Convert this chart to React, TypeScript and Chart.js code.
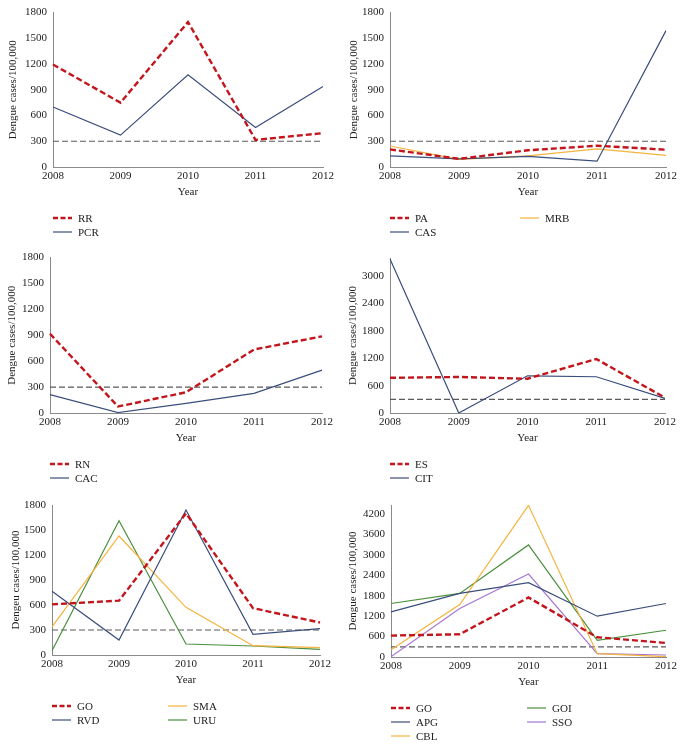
import React, { useEffect, useRef } from "react";
import { Chart, registerables } from "chart.js";

Chart.register(...registerables);

// ---------- data ----------
const years = ["2008", "2009", "2010", "2011", "2012"];
const threshold = [300, 300, 300, 300, 300];

// panel A
const RR = [1195, 750, 1690, 316, 395];
const PCR = [700, 372, 1075, 460, 938];
// panel B
const PA = [205, 95, 195, 248, 202];
const MRB = [245, 88, 130, 212, 135];
const CAS = [130, 95, 125, 68, 1590];
// panel C
const RN = [918, 75, 240, 735, 888];
const CAC = [212, 5, 112, 228, 497];
// panel D
const ES = [772, 790, 752, 1185, 335];
const CIT = [3380, 0, 815, 795, 322];
// panel E
const GO_E = [608, 652, 1700, 562, 390];
const RVD = [765, 180, 1740, 248, 316];
const SMA = [338, 1428, 572, 112, 88];
const URU = [52, 1612, 132, 108, 68];
// panel F
const GO_F = [630, 668, 1750, 580, 413];
const APG = [1328, 1869, 2184, 1200, 1574];
const CBL = [216, 1544, 4460, 98, 10];
const GOI = [1574, 1869, 3295, 492, 787];
const SSO = [10, 1426, 2439, 98, 59];

// tick values
const ticks1800 = [0, 300, 600, 900, 1200, 1500, 1800];
const ticks3000 = [0, 600, 1200, 1800, 2400, 3000];
const ticks4200 = [0, 600, 1200, 1800, 2400, 3000, 3600, 4200];

const yTitleMain = "Dengue cases/100,000";
const yTitleTypo = "Dengeu cases/100,000";

// ---------- styles ----------
const RED = "#C3161C";
const NAVY = "#3A4E7C";
const ORANGE = "#F5B33F";
const GREEN = "#4A8F3C";
const PURPLE = "#A478CC";
const FONT = "'Liberation Serif', 'Times New Roman', serif";
const FS = 11;

type Series = { label: string; data: number[]; color: string; dashed?: boolean; col: number; row: number };

type PanelCfg = {
  cx: number; cy: number; cw: number; ch: number;
  l: number; r: number; t: number; b: number;
  yMax: number; yTicks: number[]; yTitle: string; titleX: number;
  col1: number;
  series: Series[];
};

const panels: PanelCfg[] = [
  {
    cx: 0, cy: 0, cw: 341, ch: 245, l: 53, r: 323, t: 11, b: 167,
    yMax: 1800, yTicks: ticks1800, yTitle: yTitleMain, titleX: 13, col1: 130,
    series: [
      { label: "RR", data: RR, color: RED, dashed: true, col: 0, row: 0 },
      { label: "PCR", data: PCR, color: NAVY, col: 0, row: 1 },
    ],
  },
  {
    cx: 341, cy: 0, cw: 341, ch: 245, l: 390, r: 666, t: 12, b: 167,
    yMax: 1800, yTicks: ticks1800, yTitle: yTitleMain, titleX: 13, col1: 130,
    series: [
      { label: "PA", data: PA, color: RED, dashed: true, col: 0, row: 0 },
      { label: "CAS", data: CAS, color: NAVY, col: 0, row: 1 },
      { label: "MRB", data: MRB, color: ORANGE, col: 1, row: 0 },
    ],
  },
  {
    cx: 0, cy: 245, cw: 341, ch: 245, l: 50, r: 322, t: 257, b: 413,
    yMax: 1800, yTicks: ticks1800, yTitle: yTitleMain, titleX: 12, col1: 130,
    series: [
      { label: "RN", data: RN, color: RED, dashed: true, col: 0, row: 0 },
      { label: "CAC", data: CAC, color: NAVY, col: 0, row: 1 },
    ],
  },
  {
    cx: 341, cy: 245, cw: 341, ch: 245, l: 390, r: 665, t: 258, b: 413,
    yMax: 3400, yTicks: ticks3000, yTitle: yTitleMain, titleX: 12, col1: 130,
    series: [
      { label: "ES", data: ES, color: RED, dashed: true, col: 0, row: 0 },
      { label: "CIT", data: CIT, color: NAVY, col: 0, row: 1 },
    ],
  },
  {
    cx: 0, cy: 490, cw: 341, ch: 256, l: 52, r: 320, t: 505, b: 655,
    yMax: 1800, yTicks: ticks1800, yTitle: yTitleTypo, titleX: 16, col1: 116,
    series: [
      { label: "GO", data: GO_E, color: RED, dashed: true, col: 0, row: 0 },
      { label: "RVD", data: RVD, color: NAVY, col: 0, row: 1 },
      { label: "SMA", data: SMA, color: ORANGE, col: 1, row: 0 },
      { label: "URU", data: URU, color: GREEN, col: 1, row: 1 },
    ],
  },
  {
    cx: 341, cy: 490, cw: 341, ch: 256, l: 391, r: 666, t: 505, b: 657,
    yMax: 4470, yTicks: ticks4200, yTitle: yTitleMain, titleX: 12, col1: 136,
    series: [
      { label: "GO", data: GO_F, color: RED, dashed: true, col: 0, row: 0 },
      { label: "APG", data: APG, color: NAVY, col: 0, row: 1 },
      { label: "CBL", data: CBL, color: ORANGE, col: 0, row: 2 },
      { label: "GOI", data: GOI, color: GREEN, col: 1, row: 0 },
      { label: "SSO", data: SSO, color: PURPLE, col: 1, row: 1 },
    ],
  },
];

const X_AXIS_H = 36;

function Panel({ cfg }: { cfg: PanelCfg }) {
  const ref = useRef<HTMLCanvasElement | null>(null);
  useEffect(() => {
    if (!ref.current) return;
    const datasets: any[] = cfg.series.map((s) => ({
      label: s.label,
      data: s.data,
      borderColor: s.color,
      backgroundColor: s.color,
      borderWidth: s.dashed ? 2.4 : 1.2,
      borderDash: s.dashed ? [6, 3] : [],
      pointRadius: 0,
      tension: 0,
      fill: false,
    }));
    datasets.push({
      label: "threshold",
      data: threshold,
      borderColor: "#5a5a5a",
      borderWidth: 1.2,
      borderDash: [6, 3],
      pointRadius: 0,
      tension: 0,
      fill: false,
    });

    const legendPlugin = {
      id: "customLegend",
      afterDraw(chart: any) {
        const ctx = chart.ctx;
        const area = chart.chartArea;
        ctx.save();
        cfg.series.forEach((s) => {
          const x = area.left + (s.col === 1 ? cfg.col1 : 0);
          const y = area.bottom + 51 + s.row * 14;
          ctx.beginPath();
          ctx.strokeStyle = s.color;
          ctx.lineWidth = s.dashed ? 2.4 : 1.2;
          ctx.setLineDash(s.dashed ? [5, 2.5] : []);
          ctx.moveTo(x, y);
          ctx.lineTo(x + 19, y);
          ctx.stroke();
          ctx.setLineDash([]);
          ctx.fillStyle = "#222";
          ctx.font = `${FS}px ${FONT}`;
          ctx.textBaseline = "middle";
          ctx.textAlign = "left";
          ctx.fillText(s.label, x + 25, y + 1);
        });
        ctx.restore();
      },
    };

    const chart = new Chart(ref.current, {
      type: "line",
      data: { labels: years, datasets },
      options: {
        animation: false,
        responsive: false,
        maintainAspectRatio: false,
        layout: {
          padding: {
            left: 0,
            top: cfg.t - cfg.cy,
            right: cfg.cx + cfg.cw - cfg.r,
            bottom: cfg.cy + cfg.ch - (cfg.b + X_AXIS_H),
          },
        },
        plugins: { legend: { display: false }, tooltip: { enabled: false }, title: { display: false } },
        scales: {
          x: {
            type: "category",
            offset: false,
            grid: { display: false, drawTicks: false },
            border: { display: true, color: "#8a8a8a", width: 1 },
            ticks: { color: "#222", font: { family: FONT, size: FS }, padding: 3, maxRotation: 0, autoSkip: false },
            title: { display: true, text: "Year", color: "#222", font: { family: FONT, size: FS }, padding: { top: 0, bottom: 4 } },
            afterFit: (s: any) => { s.height = X_AXIS_H; },
          },
          y: {
            min: 0,
            max: cfg.yMax,
            grid: { display: false, drawTicks: false },
            border: { display: true, color: "#8a8a8a", width: 1 },
            ticks: {
              color: "#222",
              font: { family: FONT, size: FS },
              padding: 6,
              callback: (v: any) => String(v),
            },
            afterBuildTicks: (s: any) => { s.ticks = cfg.yTicks.map((v) => ({ value: v })); },
            title: {
              display: true, text: cfg.yTitle, color: "#222",
              font: { family: FONT, size: FS },
              padding: { top: cfg.titleX - FS * 0.6, bottom: 0 },
            },
            afterFit: (s: any) => { s.width = cfg.l - cfg.cx; },
          },
        },
      } as any,
      plugins: [legendPlugin],
    });
    return () => chart.destroy();
  }, [cfg]);
  return (
    <canvas
      ref={ref}
      width={cfg.cw}
      height={cfg.ch}
      style={{ position: "absolute", left: cfg.cx, top: cfg.cy, width: cfg.cw, height: cfg.ch }}
    />
  );
}

export default function App() {
  return (
    <div style={{ position: "absolute", left: 0, top: 0, width: 682, height: 746, background: "#fff" }}>
      {panels.map((p, i) => (
        <Panel key={i} cfg={p} />
      ))}
    </div>
  );
}
